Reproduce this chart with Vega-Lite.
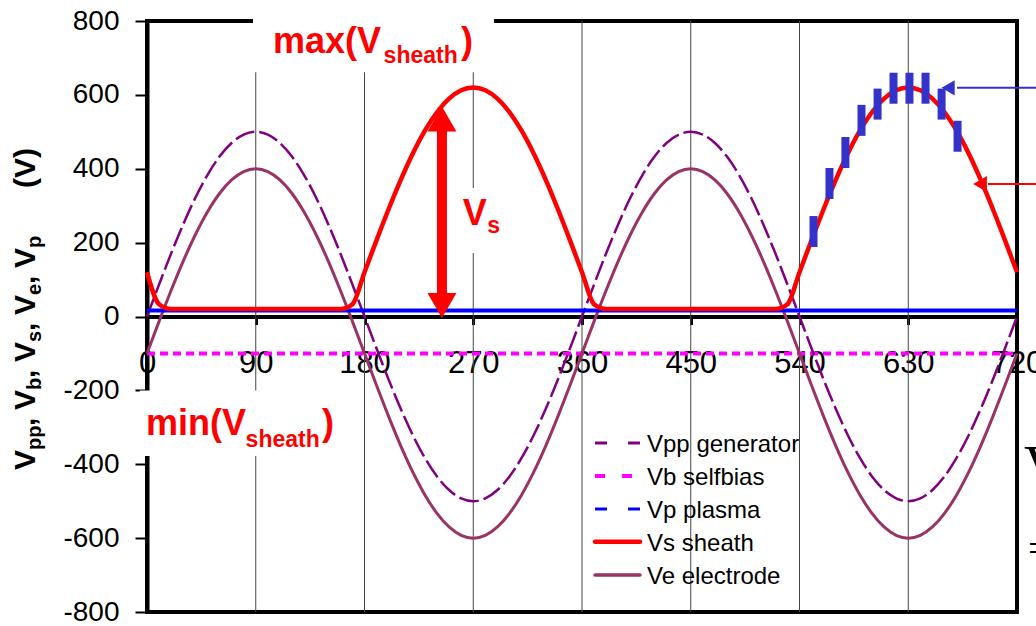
{
  "$schema": "https://vega.github.io/schema/vega-lite/v6.json",
  "width": 870,
  "height": 591,
  "autosize": {"type": "none"},
  "padding": {"left": 147, "top": 21, "right": 19, "bottom": 14},
  "background": "white",
  "config": {"font": "Liberation Sans", "view": {"stroke": "black", "strokeWidth": 4}},
  "datasets": {
    "grid": [{"x": 90}, {"x": 180}, {"x": 270}, {"x": 360}, {"x": 450}, {"x": 540}, {"x": 630}],
    "boxes": [
      {"x": 87.7, "x2": 287.2, "y": 661, "y2": 845},
      {"x": -6, "x2": 163.9, "y": -200.5, "y2": -377.4},
      {"x": 252.4, "x2": 304.6, "y": 171.9, "y2": 347.9}
    ],
    "vb": [{"x": 0, "v": -100}, {"x": 720, "v": -100}],
    "vp": [{"x": 0, "v": 16}, {"x": 720, "v": 16}],
    "w": [
      {"x": 0, "pp": 0, "e": -100, "s": 120},
      {"x": 10, "pp": 86.8, "e": -13.2, "s": 33.2},
      {"x": 20, "pp": 171, "e": 71, "s": 20},
      {"x": 30, "pp": 250, "e": 150, "s": 20},
      {"x": 40, "pp": 321.4, "e": 221.4, "s": 20},
      {"x": 50, "pp": 383, "e": 283, "s": 20},
      {"x": 60, "pp": 433, "e": 333, "s": 20},
      {"x": 70, "pp": 469.8, "e": 369.8, "s": 20},
      {"x": 80, "pp": 492.4, "e": 392.4, "s": 20},
      {"x": 90, "pp": 500, "e": 400, "s": 20},
      {"x": 100, "pp": 492.4, "e": 392.4, "s": 20},
      {"x": 110, "pp": 469.8, "e": 369.8, "s": 20},
      {"x": 120, "pp": 433, "e": 333, "s": 20},
      {"x": 130, "pp": 383, "e": 283, "s": 20},
      {"x": 140, "pp": 321.4, "e": 221.4, "s": 20},
      {"x": 150, "pp": 250, "e": 150, "s": 20},
      {"x": 160, "pp": 171, "e": 71, "s": 20},
      {"x": 170, "pp": 86.8, "e": -13.2, "s": 33.2},
      {"x": 180, "pp": 0, "e": -100, "s": 120},
      {"x": 190, "pp": -86.8, "e": -186.8, "s": 206.8},
      {"x": 200, "pp": -171, "e": -271, "s": 291},
      {"x": 210, "pp": -250, "e": -350, "s": 370},
      {"x": 220, "pp": -321.4, "e": -421.4, "s": 441.4},
      {"x": 230, "pp": -383, "e": -483, "s": 503},
      {"x": 240, "pp": -433, "e": -533, "s": 553},
      {"x": 250, "pp": -469.8, "e": -569.8, "s": 589.8},
      {"x": 260, "pp": -492.4, "e": -592.4, "s": 612.4},
      {"x": 270, "pp": -500, "e": -600, "s": 620},
      {"x": 280, "pp": -492.4, "e": -592.4, "s": 612.4},
      {"x": 290, "pp": -469.8, "e": -569.8, "s": 589.8},
      {"x": 300, "pp": -433, "e": -533, "s": 553},
      {"x": 310, "pp": -383, "e": -483, "s": 503},
      {"x": 320, "pp": -321.4, "e": -421.4, "s": 441.4},
      {"x": 330, "pp": -250, "e": -350, "s": 370},
      {"x": 340, "pp": -171, "e": -271, "s": 291},
      {"x": 350, "pp": -86.8, "e": -186.8, "s": 206.8},
      {"x": 360, "pp": 0, "e": -100, "s": 120},
      {"x": 370, "pp": 86.8, "e": -13.2, "s": 33.2},
      {"x": 380, "pp": 171, "e": 71, "s": 20},
      {"x": 390, "pp": 250, "e": 150, "s": 20},
      {"x": 400, "pp": 321.4, "e": 221.4, "s": 20},
      {"x": 410, "pp": 383, "e": 283, "s": 20},
      {"x": 420, "pp": 433, "e": 333, "s": 20},
      {"x": 430, "pp": 469.8, "e": 369.8, "s": 20},
      {"x": 440, "pp": 492.4, "e": 392.4, "s": 20},
      {"x": 450, "pp": 500, "e": 400, "s": 20},
      {"x": 460, "pp": 492.4, "e": 392.4, "s": 20},
      {"x": 470, "pp": 469.8, "e": 369.8, "s": 20},
      {"x": 480, "pp": 433, "e": 333, "s": 20},
      {"x": 490, "pp": 383, "e": 283, "s": 20},
      {"x": 500, "pp": 321.4, "e": 221.4, "s": 20},
      {"x": 510, "pp": 250, "e": 150, "s": 20},
      {"x": 520, "pp": 171, "e": 71, "s": 20},
      {"x": 530, "pp": 86.8, "e": -13.2, "s": 33.2},
      {"x": 540, "pp": 0, "e": -100, "s": 120},
      {"x": 550, "pp": -86.8, "e": -186.8, "s": 206.8},
      {"x": 560, "pp": -171, "e": -271, "s": 291},
      {"x": 570, "pp": -250, "e": -350, "s": 370},
      {"x": 580, "pp": -321.4, "e": -421.4, "s": 441.4},
      {"x": 590, "pp": -383, "e": -483, "s": 503},
      {"x": 600, "pp": -433, "e": -533, "s": 553},
      {"x": 610, "pp": -469.8, "e": -569.8, "s": 589.8},
      {"x": 620, "pp": -492.4, "e": -592.4, "s": 612.4},
      {"x": 630, "pp": -500, "e": -600, "s": 620},
      {"x": 640, "pp": -492.4, "e": -592.4, "s": 612.4},
      {"x": 650, "pp": -469.8, "e": -569.8, "s": 589.8},
      {"x": 660, "pp": -433, "e": -533, "s": 553},
      {"x": 670, "pp": -383, "e": -483, "s": 503},
      {"x": 680, "pp": -321.4, "e": -421.4, "s": 441.4},
      {"x": 690, "pp": -250, "e": -350, "s": 370},
      {"x": 700, "pp": -171, "e": -271, "s": 291},
      {"x": 710, "pp": -86.8, "e": -186.8, "s": 206.8},
      {"x": 720, "pp": 0, "e": -100, "s": 120}
    ],
    "bars": [
      {"x": 551.6, "v": 230}, {"x": 564.8, "v": 360}, {"x": 578, "v": 444},
      {"x": 591.3, "v": 531}, {"x": 604.6, "v": 575}, {"x": 617.8, "v": 618},
      {"x": 631, "v": 618}, {"x": 644.3, "v": 618}, {"x": 657.6, "v": 575},
      {"x": 670.8, "v": 488}
    ],
    "blueLine": [{"x": 670.4, "x2": 745, "y": 619}],
    "blueHead": [{"x": 663, "y": 619}],
    "redLine": [{"x": 696, "x2": 745, "y": 358.7}],
    "redHead": [{"x": 689.4, "y": 358.7}],
    "vsShaft": [{"x": 244.1, "y": 30, "y2": 535}],
    "vsUp": [{"x": 244.1, "y": 534.7}],
    "vsDown": [{"x": 244.1, "y": 29.8}],
    "redMain": [
      {"t": "max(V", "x": 104.3, "y": 713.5},
      {"t": ")", "x": 259.9, "y": 713.5},
      {"t": "min(V", "x": -0.8, "y": -320.8},
      {"t": ")", "x": 144.8, "y": -320.8},
      {"t": "V", "x": 261.3, "y": 247.7}
    ],
    "redSub": [
      {"t": "sheath", "x": 195.8, "y": 686},
      {"t": "sheath", "x": 81.6, "y": -353.3},
      {"t": "s", "x": 281.5, "y": 226}
    ],
    "yMain": [
      {"t": "V", "x": -92.7, "y": -415.6},
      {"t": ",", "x": -92.7, "y": -296.4},
      {"t": "V", "x": -92.7, "y": -253.1},
      {"t": ",", "x": -92.7, "y": -166.5},
      {"t": "V", "x": -92.7, "y": -123.2},
      {"t": ",", "x": -92.7, "y": -39.3},
      {"t": "V", "x": -92.7, "y": 4.1},
      {"t": ",", "x": -92.7, "y": 88.0},
      {"t": "V", "x": -92.7, "y": 131.3},
      {"t": "(V)", "x": -92.7, "y": 347.9}
    ],
    "ySub": [
      {"t": "pp", "x": -87.7, "y": -361.4},
      {"t": "b", "x": -87.7, "y": -198.9},
      {"t": "s", "x": -87.7, "y": -69.0},
      {"t": "e", "x": -87.7, "y": 58.2},
      {"t": "p", "x": -87.7, "y": 185.4}
    ],
    "legendText": [
      {"t": "Vpp generator", "x": 413.8, "y": -366.8},
      {"t": "Vb selfbias", "x": 413.8, "y": -456.2},
      {"t": "Vp plasma", "x": 413.8, "y": -545.5},
      {"t": "Vs sheath", "x": 413.8, "y": -634.9},
      {"t": "Ve electrode", "x": 413.8, "y": -724.2}
    ],
    "lgVpp": [{"x": 370.8, "x2": 408, "y": -342.5}],
    "lgVb": [{"x": 370.8, "x2": 401.4, "y": -431.8}],
    "lgVp": [{"x": 370.8, "x2": 408, "y": -521}],
    "lgVs": [{"x": 370.8, "x2": 408, "y": -610}],
    "lgVe": [{"x": 370.8, "x2": 408, "y": -699.8}],
    "serifV": [{"t": "V", "x": 725.8, "y": -456}],
    "serifEq": [{"t": "=", "x": 729, "y": -664.6}]
  },
  "layer": [
    {
      "data": {"name": "grid"},
      "mark": {"type": "rule", "color": "#444444", "strokeWidth": 1},
      "encoding": {
        "x": {
          "field": "x", "type": "quantitative",
          "scale": {"domain": [0, 720], "nice": false, "zero": false},
          "axis": {
            "values": [0, 90, 180, 270, 360, 450, 540, 630, 720],
            "grid": false, "title": null, "offset": -295.5,
            "domainColor": "black", "domainWidth": 4,
            "tickColor": "black", "tickWidth": 3, "tickSize": 8,
            "labelFontSize": 31, "labelColor": "black", "labelPadding": 24,
            "labelFlush": false, "labelOverlap": false, "labelBound": false
          }
        }
      }
    },
    {
      "data": {"name": "boxes"},
      "mark": {"type": "rect", "color": "white", "clip": false},
      "encoding": {
        "x": {"field": "x", "type": "quantitative"},
        "x2": {"field": "x2"},
        "y": {
          "field": "y", "type": "quantitative",
          "scale": {"domain": [-800, 800], "nice": false, "zero": false},
          "axis": {
            "values": [-800, -600, -400, -200, 0, 200, 400, 600, 800],
            "grid": false, "title": null,
            "domainColor": "black", "domainWidth": 4,
            "tickColor": "black", "tickWidth": 2, "tickSize": 12,
            "labelFontSize": 28, "labelColor": "black", "labelPadding": 16,
            "labelFlush": false, "labelOverlap": false, "labelBound": false,
            "labelExpr": "datum.value < 0 ? '-' + abs(datum.value) : '' + datum.value"
          }
        },
        "y2": {"field": "y2"}
      }
    },
    {
      "data": {"name": "vb"},
      "mark": {"type": "line", "color": "#FF00FF", "strokeWidth": 4, "strokeDash": [8, 5]},
      "encoding": {"x": {"field": "x", "type": "quantitative"}, "y": {"field": "v", "type": "quantitative"}}
    },
    {
      "data": {"name": "w"},
      "mark": {"type": "line", "color": "#800080", "strokeWidth": 2.5, "strokeDash": [20, 5], "interpolate": "monotone"},
      "encoding": {"x": {"field": "x", "type": "quantitative"}, "y": {"field": "pp", "type": "quantitative"}}
    },
    {
      "data": {"name": "w"},
      "mark": {"type": "line", "color": "#993366", "strokeWidth": 3, "interpolate": "monotone"},
      "encoding": {"x": {"field": "x", "type": "quantitative"}, "y": {"field": "e", "type": "quantitative"}}
    },
    {
      "data": {"name": "vp"},
      "mark": {"type": "line", "color": "#0000FF", "strokeWidth": 4},
      "encoding": {"x": {"field": "x", "type": "quantitative"}, "y": {"field": "v", "type": "quantitative"}}
    },
    {
      "data": {"name": "w"},
      "mark": {"type": "line", "color": "#FF0000", "strokeWidth": 4.5, "interpolate": "monotone"},
      "encoding": {"x": {"field": "x", "type": "quantitative"}, "y": {"field": "s", "type": "quantitative"}}
    },
    {
      "data": {"name": "bars"},
      "mark": {"type": "tick", "orient": "vertical", "color": "#3333CC", "size": 31, "thickness": 8, "opacity": 1},
      "encoding": {"x": {"field": "x", "type": "quantitative"}, "y": {"field": "v", "type": "quantitative"}}
    },
    {
      "data": {"name": "blueLine"},
      "mark": {"type": "rule", "color": "#3333CC", "strokeWidth": 2, "clip": false},
      "encoding": {"x": {"field": "x", "type": "quantitative"}, "x2": {"field": "x2"}, "y": {"field": "y", "type": "quantitative"}}
    },
    {
      "data": {"name": "blueHead"},
      "mark": {"type": "point", "shape": "triangle-left", "filled": true, "color": "#3333CC", "size": 230, "opacity": 1},
      "encoding": {"x": {"field": "x", "type": "quantitative"}, "y": {"field": "y", "type": "quantitative"}}
    },
    {
      "data": {"name": "redLine"},
      "mark": {"type": "rule", "color": "#FF0000", "strokeWidth": 2, "clip": false},
      "encoding": {"x": {"field": "x", "type": "quantitative"}, "x2": {"field": "x2"}, "y": {"field": "y", "type": "quantitative"}}
    },
    {
      "data": {"name": "redHead"},
      "mark": {"type": "point", "shape": "triangle-left", "filled": true, "color": "#FF0000", "size": 250, "opacity": 1},
      "encoding": {"x": {"field": "x", "type": "quantitative"}, "y": {"field": "y", "type": "quantitative"}}
    },
    {
      "data": {"name": "vsShaft"},
      "mark": {"type": "rule", "color": "#FF0000", "strokeWidth": 10},
      "encoding": {"x": {"field": "x", "type": "quantitative"}, "y": {"field": "y", "type": "quantitative"}, "y2": {"field": "y2"}}
    },
    {
      "data": {"name": "vsUp"},
      "mark": {"type": "point", "shape": "triangle-up", "filled": true, "color": "#FF0000", "size": 841, "opacity": 1},
      "encoding": {"x": {"field": "x", "type": "quantitative"}, "y": {"field": "y", "type": "quantitative"}}
    },
    {
      "data": {"name": "vsDown"},
      "mark": {"type": "point", "shape": "triangle-down", "filled": true, "color": "#FF0000", "size": 841, "opacity": 1},
      "encoding": {"x": {"field": "x", "type": "quantitative"}, "y": {"field": "y", "type": "quantitative"}}
    },
    {
      "data": {"name": "redMain"},
      "mark": {"type": "text", "color": "#FF0000", "fontSize": 36, "fontWeight": "bold", "align": "left", "baseline": "alphabetic", "clip": false},
      "encoding": {"x": {"field": "x", "type": "quantitative"}, "y": {"field": "y", "type": "quantitative"}, "text": {"field": "t"}}
    },
    {
      "data": {"name": "redSub"},
      "mark": {"type": "text", "color": "#FF0000", "fontSize": 23, "fontWeight": "bold", "align": "left", "baseline": "alphabetic", "clip": false},
      "encoding": {"x": {"field": "x", "type": "quantitative"}, "y": {"field": "y", "type": "quantitative"}, "text": {"field": "t"}}
    },
    {
      "data": {"name": "yMain"},
      "mark": {"type": "text", "color": "black", "fontSize": 30, "fontWeight": "bold", "align": "left", "baseline": "alphabetic", "angle": 270, "clip": false},
      "encoding": {"x": {"field": "x", "type": "quantitative"}, "y": {"field": "y", "type": "quantitative"}, "text": {"field": "t"}}
    },
    {
      "data": {"name": "ySub"},
      "mark": {"type": "text", "color": "black", "fontSize": 20, "fontWeight": "bold", "align": "left", "baseline": "alphabetic", "angle": 270, "clip": false},
      "encoding": {"x": {"field": "x", "type": "quantitative"}, "y": {"field": "y", "type": "quantitative"}, "text": {"field": "t"}}
    },
    {
      "data": {"name": "lgVpp"},
      "mark": {"type": "rule", "color": "#800080", "strokeWidth": 3, "strokeDash": [12, 21]},
      "encoding": {"x": {"field": "x", "type": "quantitative"}, "x2": {"field": "x2"}, "y": {"field": "y", "type": "quantitative"}}
    },
    {
      "data": {"name": "lgVb"},
      "mark": {"type": "rule", "color": "#FF00FF", "strokeWidth": 4, "strokeDash": [10, 17]},
      "encoding": {"x": {"field": "x", "type": "quantitative"}, "x2": {"field": "x2"}, "y": {"field": "y", "type": "quantitative"}}
    },
    {
      "data": {"name": "lgVp"},
      "mark": {"type": "rule", "color": "#0000FF", "strokeWidth": 3, "strokeDash": [12, 21]},
      "encoding": {"x": {"field": "x", "type": "quantitative"}, "x2": {"field": "x2"}, "y": {"field": "y", "type": "quantitative"}}
    },
    {
      "data": {"name": "lgVs"},
      "mark": {"type": "rule", "color": "#FF0000", "strokeWidth": 4.5, "strokeCap": "round"},
      "encoding": {"x": {"field": "x", "type": "quantitative"}, "x2": {"field": "x2"}, "y": {"field": "y", "type": "quantitative"}}
    },
    {
      "data": {"name": "lgVe"},
      "mark": {"type": "rule", "color": "#993366", "strokeWidth": 3.5, "strokeCap": "round"},
      "encoding": {"x": {"field": "x", "type": "quantitative"}, "x2": {"field": "x2"}, "y": {"field": "y", "type": "quantitative"}}
    },
    {
      "data": {"name": "legendText"},
      "mark": {"type": "text", "color": "black", "fontSize": 24, "align": "left", "baseline": "alphabetic"},
      "encoding": {"x": {"field": "x", "type": "quantitative"}, "y": {"field": "y", "type": "quantitative"}, "text": {"field": "t"}}
    },
    {
      "data": {"name": "serifV"},
      "mark": {"type": "text", "color": "black", "fontSize": 56, "font": "Liberation Serif", "align": "left", "baseline": "alphabetic", "clip": false},
      "encoding": {"x": {"field": "x", "type": "quantitative"}, "y": {"field": "y", "type": "quantitative"}, "text": {"field": "t"}}
    },
    {
      "data": {"name": "serifEq"},
      "mark": {"type": "text", "color": "black", "fontSize": 40, "font": "Liberation Serif", "align": "left", "baseline": "alphabetic", "clip": false},
      "encoding": {"x": {"field": "x", "type": "quantitative"}, "y": {"field": "y", "type": "quantitative"}, "text": {"field": "t"}}
    }
  ]
}
